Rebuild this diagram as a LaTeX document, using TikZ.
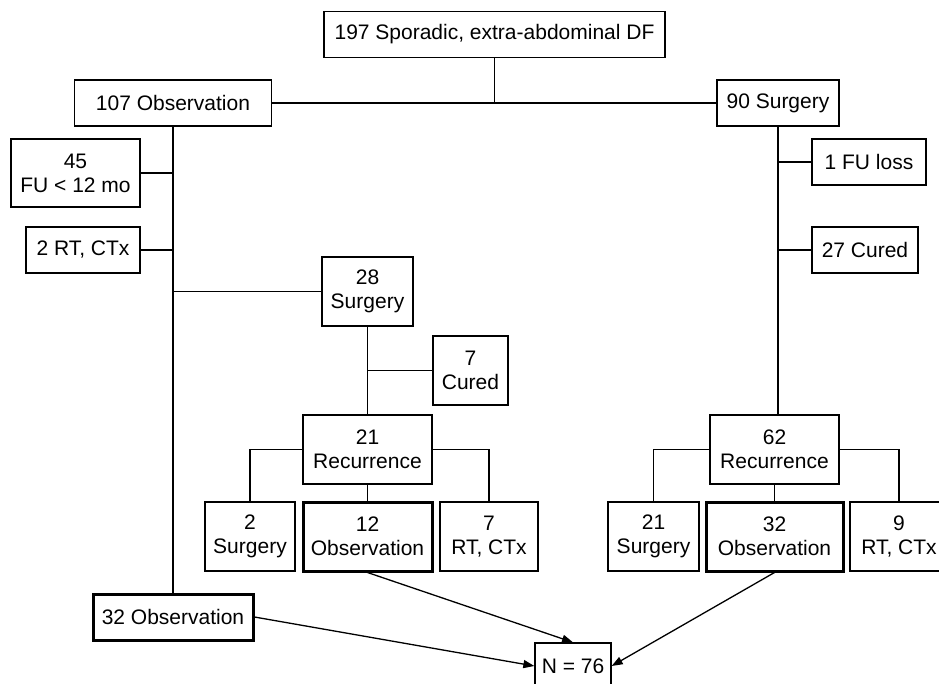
\documentclass[tikz,border=0pt]{standalone}
\usepackage{fontspec}
\setmainfont{Liberation Sans}
\usetikzlibrary{arrows.meta}

\begin{document}
\begin{tikzpicture}[
    x=1pt, y=-1pt,
    box/.style={draw, line width=1.3pt, minimum height=46pt, inner xsep=2pt, align=center, font=\fontsize{21}{24}\selectfont},
    tall/.style={box, minimum height=69pt},
    keep/.style={line width=3pt},
    link/.style={line width=1.3pt},
    goes/.style={link, -{Triangle[length=11pt, width=8pt]}},
]
\clip (0,0) rectangle (939,683);

% top level
\node[box, minimum width=341pt] (root) at (494.5,34.5) {197 Sporadic, extra-abdominal DF};
\node[box, minimum width=197pt] (obs107) at (173,103) {107 Observation};
\node[box, minimum width=122pt] (surg90) at (778,103) {90 Surgery};

% observation arm
\node[tall, minimum width=129pt, minimum height=68pt] (fu45) at (75.5,173) {45\\FU < 12 mo};
\node[box, minimum width=114pt] (rt2) at (83,250) {2 RT, CTx};
\node[tall, minimum width=91pt] (surg28) at (367.5,291.5) {28\\Surgery};
\node[tall, minimum width=75pt] (cured7) at (470.5,370.5) {7\\Cured};
\node[tall, minimum width=129pt] (rec21) at (367.5,449.5) {21\\Recurrence};
\node[tall, minimum width=90pt] (surgB) at (250,536.5) {2\\Surgery};
\node[tall, keep, minimum width=129pt] (obsB) at (367.5,536.5) {12\\Observation};
\node[tall, minimum width=98pt] (rtB) at (489,536.5) {7\\RT, CTx};
\node[box, keep, minimum width=160pt] (obsA) at (173,617) {32 Observation};

% surgery arm
\node[box, minimum width=114pt] (fu1) at (869,162) {1 FU loss};
\node[box, minimum width=106pt] (cured27) at (865,250) {27 Cured};
\node[tall, minimum width=129pt] (rec62) at (774.5,449.5) {62\\Recurrence};
\node[tall, minimum width=91pt] (surgC) at (653.5,536.5) {21\\Surgery};
\node[tall, keep, minimum width=137pt] (obsC) at (774.5,536.5) {32\\Observation};
\node[tall, minimum width=98pt] (rtC) at (899,536.5) {9\\RT, CTx};

\node[box, minimum width=76pt] (n76) at (573,666) {N = 76};

% tree lines
\draw[link] (obs107) -- (surg90);
\draw[link] (root) -- (root |- obs107);
\draw[link] (obs107) -- (obsA);
\draw[link] (fu45) -- (fu45 -| obs107);
\draw[link] (rt2) -- (rt2 -| obs107);
\draw[link] (surg28) -- (surg28 -| obs107);
\draw[link] (surg28) -- (rec21);
\draw[link] (cured7) -- (cured7 -| surg28);
\draw[link] (rec21) -- (obsB);
\draw[link] (rec21.west) -| (surgB.north);
\draw[link] (rec21.east) -| (rtB.north);
\draw[link] (surg90) -- (surg90 |- rec62.north);
\draw[link] (fu1) -- (fu1 -| surg90);
\draw[link] (cured27) -- (cured27 -| surg90);
\draw[link] (rec62) -- (obsC);
\draw[link] (rec62.west) -| (surgC.north);
\draw[link] (rec62.east) -| (rtC.north);

% arrows to total
\draw[goes] (obsB.south) -- (n76.north);
\draw[goes] (obsA.east) -- (n76.west);
\draw[goes] (obsC.south) -- (n76.east);
\end{tikzpicture}
\end{document}
